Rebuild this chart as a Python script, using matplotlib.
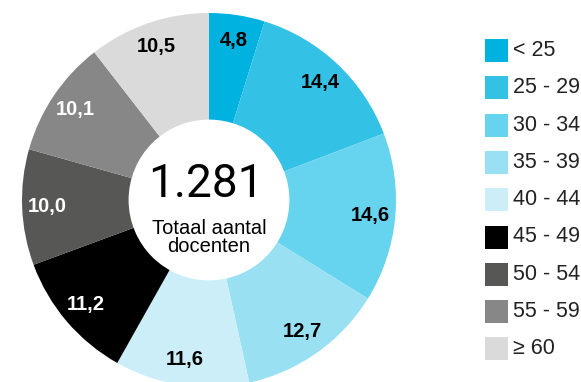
import matplotlib
matplotlib.use("Agg")
import matplotlib.pyplot as plt
from matplotlib.patches import Circle, Rectangle
import numpy as np

# Leeftijdsverdeling docenten (percentages)
categories = ["< 25", "25 - 29", "30 - 34", "35 - 39", "40 - 44",
              "45 - 49", "50 - 54", "55 - 59", "\u2265 60"]
shares = [4.8, 14.4, 14.6, 12.7, 11.6, 11.2, 10.0, 10.1, 10.5]
value_labels = ["4,8", "14,4", "14,6", "12,7", "11,6", "11,2", "10,0", "10,1", "10,5"]
total_label = "1.281"
subtitle = "Totaal aantal\ndocenten"

colors = ["#00B2DF", "#33C2E6", "#66D3EF", "#99E0F3", "#CCEEF8",
          "#000000", "#575756", "#878787", "#DADADA"]
label_colors = ["black", "black", "black", "black", "black",
                "white", "white", "white", "black"]

plt.rcParams["font.family"] = ["Liberation Sans", "DejaVu Sans"]

W, H = 581, 382
fig = plt.figure(figsize=(W / 100, H / 100), dpi=100)

# pie axes: centre (209, 200) px, radius 187 px
cx, cy, R = 209, 200, 187
ax = fig.add_axes([(cx - R) / W, (H - cy - R) / H, 2 * R / W, 2 * R / H])

wedges, _ = ax.pie(shares, colors=colors, startangle=90, counterclock=False,
                   radius=1.0, wedgeprops=dict(linewidth=0))
ax.set_xlim(-1, 1)
ax.set_ylim(-1, 1)
ax.set_aspect("equal")
ax.axis("off")
for w in wedges:
    w.set_clip_on(False)

# value labels inside the ring
cum = np.cumsum([0] + shares[:-1])
total = sum(shares)
for start, val, txt, tc in zip(cum, shares, value_labels, label_colors):
    frac = (start + val / 2) / total
    ang = np.pi / 2 - 2 * np.pi * frac
    r = 0.865
    ax.text(r * np.cos(ang), r * np.sin(ang), txt, ha="center", va="center",
            fontsize=14.5, fontweight="bold", color=tc)

# centre hole
ax.add_patch(Circle((0, 0), 0.43, facecolor="white", edgecolor="none", zorder=3))
ax.text(-0.015, 0.085, total_label, ha="center", va="center", fontsize=33,
        family=["Roboto", "Liberation Sans"], color="black", zorder=4)
ax.text(0, -0.2, subtitle, ha="center", va="center", fontsize=14.5,
        color="black", linespacing=0.92, zorder=4)

# legend
lx, ly0, step, sq = 485, 39, 37.3, 23
for i, (lab, c) in enumerate(zip(categories, colors)):
    top = ly0 + i * step
    fig.patches.append(Rectangle((lx / W, (H - top - sq) / H), sq / W, sq / H,
                                 transform=fig.transFigure, facecolor=c,
                                 edgecolor="none"))
    fig.text(513 / W, (H - top - sq / 2) / H, lab, ha="left", va="center",
             fontsize=15.5, color="#222222")

fig.savefig("out.png", dpi=100)
